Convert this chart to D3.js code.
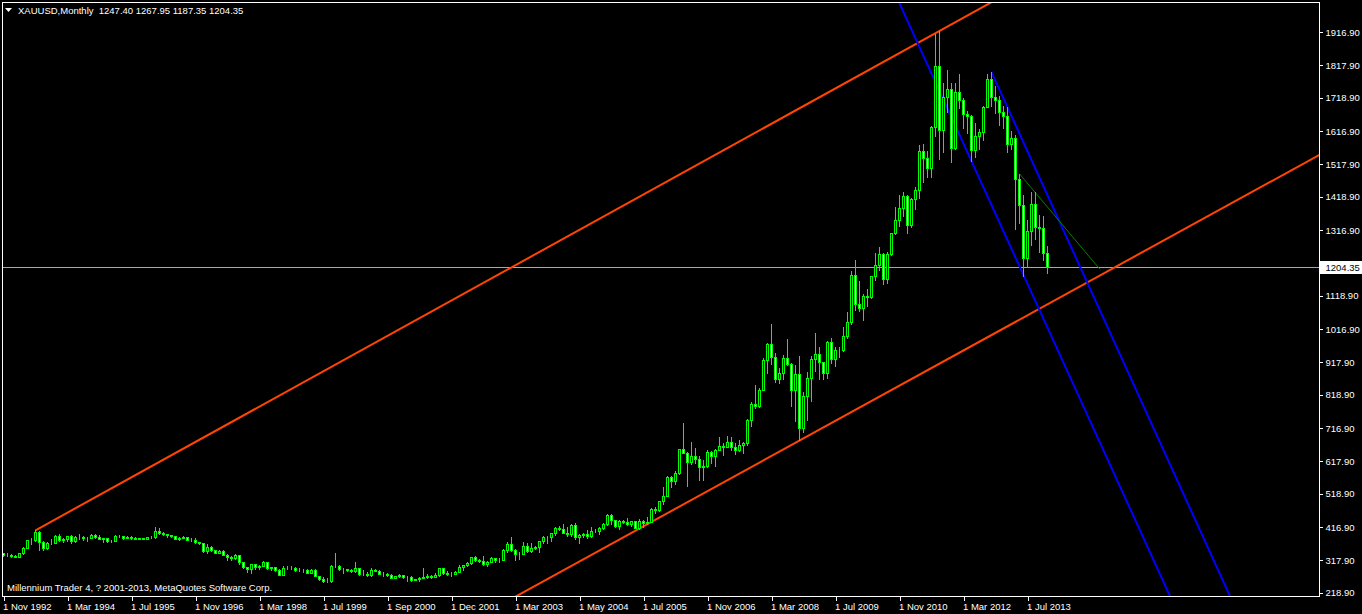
<!DOCTYPE html>
<meta charset="utf-8">
<script src="https://d3js.org/d3.v7.min.js"></script>
<style>
body { margin: 0; background: #000; }
svg text { font-family: "Liberation Sans", Arial, sans-serif; font-size: 9.5px; fill: #fff; }
</style>
<body>
<div id="chart"></div>
<script>

// monthly bars, Nov 1992 .. Dec 2013 (broker feed has a few extra bars 1999-2005)
var opens = [
  339.5,334.2,
  333,329.5,327.6,337.8,354.3,378.5,377.6,401.8,371.6,355.5,369.6,370.9,
  391.8,378,381.6,389.2,376.5,387.6,387.3,384.9,385.8,394.9,389.1,383.1,
  383.2,375,376.4,392,389.8,385.3,387.1,383.4,382.4,384,382.7,387.8,
  387,405.6,400.7,396.4,392.9,390.8,382,385.3,386.5,379,379.5,371.3,
  369.3,345.5,358.6,348.2,340.2,345.6,334.6,326.4,325.4,332.1,311.4,296.8,
  290.2,304.9,297.4,301,310.7,293.6,296.3,288.9,273.4,293.9,292.3,294.7,
  287.8,287.1,287.3,279.5,286.6,268.6,261,255.6,254.8,299,299.1,291.4,
  290.3,288.6,283.3,293.7,276.8,275.1,272.3,288.2,285,276.8,277,273.7,264.5,269.1,
  272.7,265.6,266.7,257.7,259,263.2,267.5,270.6,265.9,273,293.1,278.8,275.5,
  276.5,282.3,296.9,301.4,308.2,326.6,318.5,315,304.7,312.8,323.7,316.9,319.1,
  347.2,367.5,347.5,334.9,336.8,361.4,346,354.8,357,375.6,388,386.3,398.4,
  416.3,412,399.8,395.9,423.7,388.5,393.3,395.8,391.4,407.3,405,415.7,425.6,453.4,
  438,422.2,435.5,433,427.5,435.7,414.5,437.1,429,433.3,473.3,470.8,495.7,
  513,568.8,556,582,654,643,613.5,632.5,623.5,599.3,603.8,646.7,
  632,650.5,664.2,661.8,677,659.1,650.5,665.5,672,742.8,789.5,783.5,
  833.8,923.3,971.5,933.5,865,885.8,930.3,912,833,880.8,718,814.5,
  869.8,927.3,942,916.5,883.3,979.5,927,955.5,953,995.8,1040,1182.5,
  1095,1081,1116.5,1115.5,1179.3,1212.5,1244,1169,1246,1307.5,1346.8,1383.5,
  1421,1332.8,1411,1439,1556,1536.5,1505.5,1628.5,1813.5,1620,1722,1746,
  1565,1737,1711,1668,1663,1561,1604,1614,1692,1774,1720,1713,
  1676,1662,1578,1597,1473,1393,1234,1314,1396,1327,1323,1247.4
];
var highs = [
  340.5,338,
  335,334,340,358,378.6,385,408,406,376,372,382,393,
  396,385,392,393,390,396,390,389,397,397,393,385,
  384,379,394,395,391,390,390,387,386,386,389,390,
  418,415,402,398,395,391,388,390,387,384,385,373,
  370,366,359,349,348,347,335,330,335,333,313,298,
  307,306,302,315,311,298,297,290,300,301,299,296,
  293,291,290,292,290,270,265,262,303,338,304,294,
  291,292,313,294,287,281,293,290,289,281,278,276,270,276,
  273,268,268,261,265,293,275,272,278,294,294,285,282,
  284,302,304,311,328,330,322,331,315,326,324,323,350,
  372,389,352,341,372,371,368,360,376,391,392,399,418,
  420,428,417,428,430,397,400,409,417,412,419,431,456,457,
  440,439,440,446,437,437,442,439,448,475,480,497,540,
  571,573,587,655,732,644,677,656,634,620,650,649,
  655,690,671,694,690,672,683,677,746,797,848,839,
  930,976,1033,945,899,940,988,914,910,935,826,888,
  935,1007,963,917,982,990,964,964,1025,1070,1195,1227,
  1162,1125,1140,1180,1249,1265,1247,1251,1310,1388,1424,1432,
  1424,1414,1448,1576,1577,1557,1632,1913,1921,1764,1803,1764,
  1764,1791,1719,1677,1667,1641,1625,1693,1790,1796,1755,1724,
  1694,1690,1617,1605,1488,1424,1348,1434,1434,1362,1361,1267.95
];
var lows = [
  331,331.5,
  326,326,326,336,353,365,376,349,349,352,365,369,
  376,374,377,368,372,381,380,375,385,385,382,373,
  372,372,375,387,382,385,382,381,381,381,382,385,
  386,398,394,389,389,381,380,384,378,377,369,366,
  343,340,346,338,338,334,318,318,320,307,295,283,
  279,290,290,300,292,289,286,272,273,290,291,286,
  285,282,278,278,268,257,252,252,252,296,288,280,
  286,281,282,274,272,270,271,284,275,271,268,263,263,266,
  262,255,255,256,255,263,263,264,265,271,277,272,271,
  276,282,289,299,307,314,312,302,300,311,312,313,317,
  343,345,319,320,335,341,342,350,343,370,368,377,395,
  409,399,391,390,382,371,387,385,389,403,398,411,424,427,
  417,412,430,425,422,414,413,418,427,432,461,466,489,
  512,538,549,580,646,542,608,613,560,560,600,612,
  603,650,636,660,650,640,647,642,667,723,780,781,
  833,885,912,856,853,867,910,786,740,681,705,742,
  801,890,865,866,869,914,905,933,950,990,1033,1075,
  1073,1045,1087,1112,1165,1197,1155,1157,1241,1306,1330,1360,
  1309,1326,1381,1416,1462,1478,1479,1604,1534,1555,1676,1523,
  1563,1689,1628,1612,1527,1540,1563,1590,1690,1694,1673,1635,
  1626,1555,1562,1321,1338,1180,1207,1271,1292,1251,1226,1187.35
];
var closes = [
  334.2,333,
  329.5,327.6,337.8,354.3,378.5,377.6,401.8,371.6,355.5,369.6,370.9,391.8,
  378,381.6,389.2,376.5,387.6,387.3,384.9,385.8,394.9,389.1,383.1,383.2,
  375,376.4,392,389.8,385.3,387.1,383.4,382.4,384,382.7,387.8,387,
  405.6,400.7,396.4,392.9,390.8,382,385.3,386.5,379,379.5,371.3,369.3,
  345.5,358.6,348.2,340.2,345.6,334.6,326.4,325.4,332.1,311.4,296.8,290.2,
  304.9,297.4,301,310.7,293.6,296.3,288.9,273.4,293.9,292.3,294.7,287.8,
  287.1,287.3,279.5,286.6,268.6,261,255.6,254.8,299,299.1,291.4,290.3,
  288.6,283.3,293.7,276.8,275.1,272.3,288.2,285,276.8,277,273.7,264.5,269.1,272.7,
  265.6,266.7,257.7,259,263.2,267.5,270.6,265.9,273,293.1,278.8,275.5,276.5,
  282.3,296.9,301.4,308.2,326.6,318.5,315,304.7,312.8,323.7,316.9,319.1,347.2,
  367.5,347.5,334.9,336.8,361.4,346,354.8,357,375.6,388,386.3,398.4,416.3,
  412,399.8,395.9,423.7,388.5,393.3,395.8,391.4,407.3,405,415.7,425.6,453.4,438,
  422.2,435.5,433,427.5,435.7,414.5,437.1,429,433.3,473.3,470.8,495.7,513,
  568.8,556,582,654,643,613.5,632.5,623.5,599.3,603.8,646.7,632,
  650.5,664.2,661.8,677,659.1,650.5,665.5,672,742.8,789.5,783.5,833.8,
  923.3,971.5,933.5,865,885.8,930.3,912,833,880.8,718,814.5,869.8,
  927.3,942,916.5,883.3,979.5,927,955.5,953,995.8,1040,1182.5,1095,
  1081,1116.5,1115.5,1179.3,1212.5,1244,1169,1246,1307.5,1346.8,1383.5,1421,
  1332.8,1411,1439,1556,1536.5,1505.5,1628.5,1813.5,1620,1722,1746,1565,
  1737,1711,1668,1663,1561,1604,1614,1692,1774,1720,1713,1676,
  1662,1578,1597,1473,1393,1234,1314,1396,1327,1323,1247.4,1204.35
];

// one label every 16 bars
var dateLabels = ["1 Nov 1992","1 Mar 1994","1 Jul 1995","1 Nov 1996","1 Mar 1998","1 Jul 1999",
  "1 Sep 2000","1 Dec 2001","1 Mar 2003","1 May 2004","1 Jul 2005","1 Nov 2006","1 Mar 2008",
  "1 Jul 2009","1 Nov 2010","1 Mar 2012","1 Jul 2013"];
var priceTicks = [1916.9,1817.9,1718.9,1616.9,1517.9,1418.9,1316.9,1217.9,1118.9,
  1016.9,917.9,818.9,716.9,617.9,518.9,416.9,317.9,218.9];
var bid = 1204.35;

// drawn objects: [bar index, price] anchor pairs
var channelUpper = [[8, 408], [234, 1921]];
var channelLower = [[128.3, 209], [328.9, 1545]];
var blueMain = [[225.9, 1954], [291.6, 209]];
var blueRay = [[247, 1796], [306.6, 209]];
var greenTrend = [[254, 1488], [274.1, 1199]];

var W = 1362, H = 614;
var frame = {left: 2.5, top: 2.5, right: 1319.5, bottom: 596.5};

var svg = d3.select("#chart").append("svg")
    .attr("width", W).attr("height", H)
    .style("display", "block").style("background", "#000");

var x = d3.scaleLinear().domain([0, 261]).range([3.5, 1047.5]);
var y = d3.scaleLinear().domain([218.9, 1916.9]).range([592.7, 32.3]);

svg.append("clipPath").attr("id", "plot")
  .append("rect")
    .attr("x", frame.left + 0.5).attr("y", frame.top + 0.5)
    .attr("width", frame.right - frame.left - 1)
    .attr("height", frame.bottom - frame.top - 1);

var plot = svg.append("g").attr("clip-path", "url(#plot)");

function seg(pts, t0, t1) {
  var a = pts[0], b = pts[1];
  var p = function(t) { return [a[0] + t * (b[0] - a[0]), a[1] + t * (b[1] - a[1])]; };
  return [p(t0), p(t1)];
}
var line = d3.line().x(function(d) { return x(d[0]); }).y(function(d) { return y(d[1]); });

// bid line
plot.append("line")
    .attr("x1", frame.left).attr("x2", frame.right)
    .attr("y1", Math.round(y(bid)) + 0.5).attr("y2", Math.round(y(bid)) + 0.5)
    .attr("stroke", "#a8a8a8").attr("stroke-width", 1);

plot.append("path").attr("d", line(seg(channelUpper, 0, 10)))
    .attr("fill", "none").attr("stroke", "#ff4500").attr("stroke-width", 2);
plot.append("path").attr("d", line(seg(channelLower, -10, 10)))
    .attr("fill", "none").attr("stroke", "#ff4500").attr("stroke-width", 2);
plot.append("path").attr("d", line(seg(blueMain, -10, 10)))
    .attr("fill", "none").attr("stroke", "#0000ff").attr("stroke-width", 2);
plot.append("path").attr("d", line(seg(blueRay, 0, 10)))
    .attr("fill", "none").attr("stroke", "#0000ff").attr("stroke-width", 2);
plot.append("path").attr("d", line(seg(greenTrend, 0, 1)))
    .attr("fill", "none").attr("stroke", "#008000").attr("stroke-width", 1);

// candles
var idx = d3.range(closes.length);
var candle = plot.append("g").attr("shape-rendering", "crispEdges")
  .selectAll("g").data(idx).join("g");

candle.append("line")
    .attr("x1", function(i) { return x(i); }).attr("x2", function(i) { return x(i); })
    .attr("y1", function(i) { return Math.round(y(highs[i])); })
    .attr("y2", function(i) { return Math.round(y(lows[i])) + 1; })
    .attr("stroke", "#00ff00");

candle.append("rect")
    .attr("x", function(i) { return x(i) - 1; })
    .attr("width", 2)
    .attr("y", function(i) { return Math.round(y(Math.max(opens[i], closes[i]))) + 0.5; })
    .attr("height", function(i) {
      return Math.round(y(Math.min(opens[i], closes[i]))) - Math.round(y(Math.max(opens[i], closes[i])));
    })
    .attr("fill", function(i) { return closes[i] >= opens[i] ? "#000" : "#fff"; })
    .attr("stroke", "#00ff00");

// frame
svg.append("path")
    .attr("d", "M" + frame.left + "," + frame.top + "H" + frame.right + "V" + frame.bottom + "H" + frame.left + "Z")
    .attr("fill", "none").attr("stroke", "#fff").attr("shape-rendering", "crispEdges");

// price axis
var yAxis = svg.append("g")
    .attr("transform", "translate(" + frame.right + ",0)")
    .call(d3.axisRight(y).tickValues(priceTicks).tickSize(3).tickPadding(3)
      .tickFormat(d3.format(".2f")));
yAxis.select(".domain").remove();
yAxis.selectAll(".tick line").attr("stroke", "#fff").attr("shape-rendering", "crispEdges");
yAxis.selectAll("text").attr("font-size", null).attr("font-family", null);

// bid label
var bidY = y(bid);
svg.append("rect")
    .attr("x", frame.right + 0.5).attr("y", Math.round(bidY) - 6)
    .attr("width", W - frame.right).attr("height", 13)
    .attr("fill", "#fff");
svg.append("text")
    .attr("x", frame.right + 6).attr("y", bidY).attr("dy", "0.35em")
    .style("fill", "#000")
    .text(d3.format(".2f")(bid));

// time axis
var xAxis = svg.append("g")
    .attr("transform", "translate(0," + frame.bottom + ")")
    .call(d3.axisBottom(x).tickValues(dateLabels.map(function(d, k) { return k * 16; }))
      .tickSize(4).tickPadding(3)
      .tickFormat(function(d) { return dateLabels[d / 16]; }));
xAxis.select(".domain").remove();
xAxis.selectAll(".tick line").attr("stroke", "#fff").attr("shape-rendering", "crispEdges");
xAxis.selectAll("text").attr("text-anchor", "start").attr("dx", "-1")
    .attr("font-size", null).attr("font-family", null);

// header
svg.append("path").attr("d", "M5,8 L12,8 L8.5,12 Z").attr("fill", "#fff");
svg.append("text").attr("x", 18).attr("y", 14)
    .text("XAUUSD,Monthly  " + [opens[261], highs[261], lows[261], closes[261]].map(d3.format(".2f")).join(" "))
    .attr("xml:space", "preserve").style("white-space", "pre");

svg.append("text").attr("x", 7).attr("y", 591)
    .text("Millennium Trader 4, ? 2001-2013, MetaQuotes Software Corp.");

</script>
</body>
